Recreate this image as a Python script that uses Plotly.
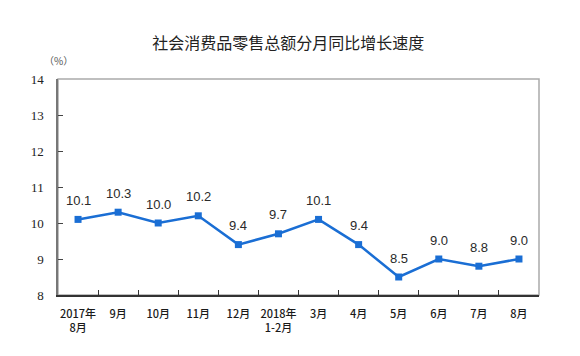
import plotly.graph_objects as go

categories = ["2017年<br>8月", "9月", "10月", "11月", "12月", "2018年<br>1-2月",
              "3月", "4月", "5月", "6月", "7月", "8月"]
values = [10.1, 10.3, 10.0, 10.2, 9.4, 9.7, 10.1, 9.4, 8.5, 9.0, 8.8, 9.0]
y_ticks = [8, 9, 10, 11, 12, 13, 14]

line_color = "rgb(26,110,212)"

fig = go.Figure()
fig.add_trace(go.Scatter(
    x=categories, y=values, mode="lines+markers",
    line=dict(color=line_color, width=2.5),
    marker=dict(symbol="square", size=7, color=line_color),
    hoverinfo="skip", showlegend=False,
))

for c, v in zip(categories, values):
    fig.add_annotation(x=c, y=v, text=f"{v:.1f}", showarrow=False, yshift=19,
                       font=dict(family="Liberation Sans, Arial", size=13, color="#2a2a2a"))

fig.add_annotation(xref="paper", yref="paper", x=0.0, y=1.0, yshift=19,
                   xanchor="center", yanchor="middle", showarrow=False,
                   text="（%）", font=dict(family="Noto Sans CJK SC", size=10, color="#555"))

# light frame (top/right)
fig.add_shape(type="rect", xref="paper", yref="paper", x0=0, y0=0, x1=1, y1=1,
              line=dict(color="#aaaaaa", width=1.5), layer="below")

# page has an 8px body margin, so the figure is offset by 8px
fig.update_layout(
    width=572, height=348,
    margin=dict(l=50, r=41, t=71, b=61),
    paper_bgcolor="white", plot_bgcolor="white",
    title=dict(text="社会消费品零售总额分月同比增长速度", x=0.49, xanchor="center",
               xref="container",
               y=1 - 35 / 348, yanchor="middle",
               font=dict(family="Noto Sans CJK SC", size=16, color="#222")),
)
fig.update_xaxes(
    type="category", range=[-0.5, 11.5], tickson="boundaries",
    ticks="inside", ticklen=5, tickcolor="#333",
    showline=True, linecolor="#333", linewidth=1.5, mirror=False,
    showgrid=False, tickangle=0, ticklabelstandoff=8,
    tickfont=dict(family="Noto Sans CJK SC", size=11, color="#1a1a1a", weight=500),
)
fig.update_yaxes(
    range=[8, 14], tickvals=y_ticks, ticks="inside", ticklen=5, tickcolor="#444",
    showline=True, linecolor="#777", linewidth=1.5, mirror=False,
    showgrid=False, zeroline=False, ticklabelstandoff=10,
    tickfont=dict(family="Liberation Serif, Times New Roman", size=13, color="#222"),
)

fig.write_html("out.html")
